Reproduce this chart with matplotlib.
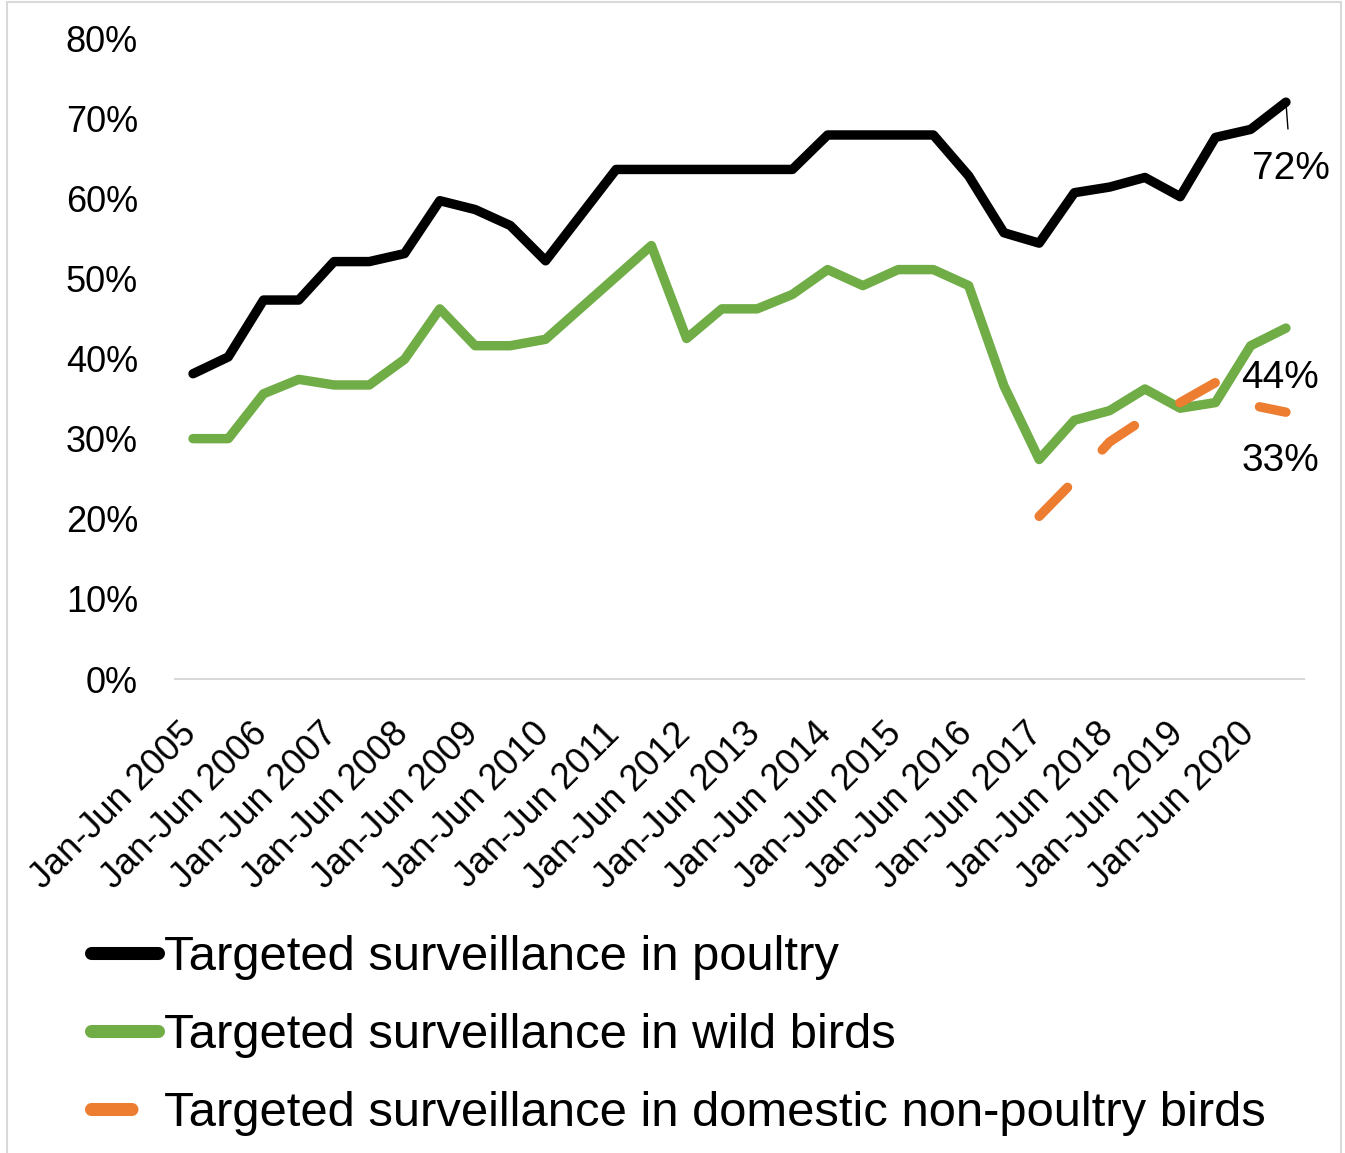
import numpy as np
import matplotlib
matplotlib.use("Agg")
import matplotlib.pyplot as plt
from matplotlib.patches import Rectangle
from matplotlib.ticker import PercentFormatter
from matplotlib.transforms import ScaledTranslation

plt.rcParams['font.family'] = ['Liberation Sans', 'DejaVu Sans']

# half-year periods, Jan-Jun 2005 .. Jul-Dec 2020
years = list(range(2005, 2021))
periods = []
for y in years:
    periods.append(f"Jan-Jun {y}")
    periods.append(f"Jul-Dec {y}")

poultry = [38.1, 40.2, 47.3, 47.3, 52.1, 52.1, 53.1, 59.7, 58.6, 56.6,
           52.2, 57.9, 63.6, 63.6, 63.6, 63.6, 63.6, 63.6, 67.9, 67.9,
           67.9, 67.9, 62.8, 55.7, 54.4, 60.7, 61.4, 62.6, 60.2, 67.6,
           68.6, 72.0]
wild_birds = [30.0, 30.0, 35.6, 37.4, 36.7, 36.7, 39.9, 46.2, 41.6, 41.6,
              42.4, 46.3, 50.2, 54.1, 42.5, 46.2, 46.2, 48.0, 51.1, 49.1,
              51.1, 51.1, 49.1, 36.6, 27.4, 32.3, 33.5, 36.2, 33.8, 34.5,
              41.6, 43.8]
domestic = [np.nan] * 24 + [20.3, 24.8, 29.6, 32.5, 34.5, 37.0, 34.2, 33.3]

end_labels = ["72%", "44%", "33%"]

x = np.arange(len(periods))

fig = plt.figure(figsize=(13.45, 11.53), dpi=100)
ax = fig.add_axes([0.1304, 0.4111, 0.9692 - 0.1304, 0.967 - 0.4111])

lw = 6.8
ax.plot(x, poultry, color='black', lw=lw, solid_capstyle='round',
        solid_joinstyle='round', label='Targeted surveillance in poultry')
ax.plot(x, wild_birds, color='#70AD47', lw=lw, solid_capstyle='round',
        solid_joinstyle='round', label='Targeted surveillance in wild birds')
ax.plot(x, domestic, color='#ED7D31', lw=lw, linestyle=(0, (4.3, 5.4)),
        dash_capstyle='round', dash_joinstyle='round',
        label='Targeted surveillance in domestic non-poultry birds')

ax.set_xlim(-0.5, len(periods) - 0.5)
ax.set_ylim(0, 80)
ax.yaxis.set_major_formatter(PercentFormatter(decimals=0))
ax.set_yticks(range(0, 81, 10))
ax.set_xticks(x[::2])
ax.set_xticklabels(periods[::2], rotation=45, ha='right', va='top',
                   rotation_mode='anchor')
ax.tick_params(axis='y', length=0, pad=27, labelsize=26)
ax.tick_params(axis='x', length=0, pad=14, labelsize=26)

# nudge rotated labels along their baseline, as in the original
shift = ScaledTranslation(-0.14, -0.18, fig.dpi_scale_trans)
for lab in ax.get_xticklabels():
    lab.set_transform(lab.get_transform() + shift)

for s in ['top', 'right', 'left']:
    ax.spines[s].set_visible(False)
ax.spines['bottom'].set_color('#D9D9D9')
ax.spines['bottom'].set_linewidth(1.5)

# end-of-line labels
ax.annotate(end_labels[0], xy=(x[-1], poultry[-1]), xytext=(5, -67),
            textcoords='offset pixels', ha='center', va='center', fontsize=28,
            arrowprops=dict(arrowstyle='-', color='black', lw=1,
                            shrinkA=14, shrinkB=0))
ax.annotate(end_labels[1], xy=(x[-1], wild_birds[-1]), xytext=(-6, -50),
            textcoords='offset pixels', ha='center', va='center', fontsize=28)
ax.annotate(end_labels[2], xy=(x[-1], domestic[-1]), xytext=(-6, -49),
            textcoords='offset pixels', ha='center', va='center', fontsize=28)

leg = fig.legend(loc='upper left', bbox_to_anchor=(0.0673, 0.189),
                 frameon=False, fontsize=35.3, borderpad=0, borderaxespad=0,
                 handlelength=1.38, handletextpad=0.12, labelspacing=0.67)
for line in leg.get_lines():
    line.set_linewidth(9.4)
    line.set_solid_capstyle('round')
    line.set_dash_capstyle('round')
leg.get_lines()[2].set_linestyle((0, (3.1, 4.0)))

# chart area border
fig.add_artist(Rectangle((7 / 1345, -0.05), (1341 - 7) / 1345, 1.05 - 1.5 / 1153,
                         transform=fig.transFigure, fill=False,
                         edgecolor='#D9D9D9', lw=1.5))

fig.savefig("out.png", dpi=100)
